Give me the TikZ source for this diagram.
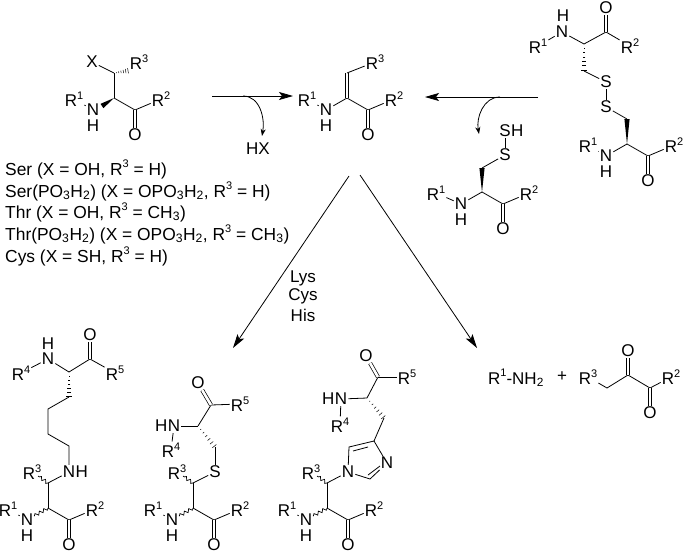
\documentclass[tikz,border=0pt]{standalone}
\usepackage{fontspec}
\setmainfont{Liberation Sans}
\usetikzlibrary{arrows.meta, calc, positioning, decorations.pathmorphing}
\tikzstyle{atom} = [inner sep=1pt, font=\fontsize{17}{20}\selectfont]
\tikzstyle{caption} = [inner sep=0pt, anchor=base west, font=\fontsize{17.4}{20}\selectfont]
\tikzstyle{bond} = [line width=0.8pt]
\tikzstyle{dbl} = [line width=0.7pt, double, double distance=2.6pt]
\tikzstyle{wavy} = [line width=0.7pt, decorate, decoration={snake, segment length=5pt, amplitude=1.6pt}]
\tikzstyle{arrow} = [line width=0.8pt,->,>={Stealth[length=14pt,width=8pt,inset=3pt]}]
\tikzstyle{bent} = [line width=0.8pt,->,>={Stealth[length=7pt,width=5pt,inset=2pt]}]
\newcommand{\Rg}[1]{R\raisebox{0.42em}{\fontsize{11}{11}\selectfont #1}}
\newcommand{\wedgebond}[2]{\fill (#1) -- ($(#2)!2.6pt!90:(#1)$) -- ($(#2)!2.6pt!-90:(#1)$) -- cycle;}
\newcommand{\hashbond}[2]{\path (#1) -- (#2) coordinate[pos=0.16] (hb1) coordinate[pos=0.32] (hb2) coordinate[pos=0.48] (hb3) coordinate[pos=0.64] (hb4) coordinate[pos=0.8] (hb5) coordinate[pos=0.96] (hb6);
  \foreach \i/\w in {1/0.5,2/0.9,3/1.3,4/1.7,5/2.1,6/2.6}
    \draw[line width=0.5pt] ($(hb\i)!\w pt!90:(#2)$) -- ($(hb\i)!\w pt!-90:(#2)$);}
% #1 prefix, #2 #3 position of the alpha carbon, #4 offset of R1
\newcommand{\backbone}[4]{\begin{scope}[shift={(#2,#3)}]
  \coordinate (#1a) at (0,0);
  \coordinate (#1c) at (21,12);
  \node (#1n) [atom] at (-21,12) {N};
  \node (#1h) [atom] at (-21,28) {H};
  \node (#1o) [atom] at (21,37) {O};
  \node (#1r) [atom] at (47,1) {\Rg{2}};
  \node (#1s) [atom] at (#4,1) {\Rg{1}};
  \end{scope}
  \draw [bond] (#1a) -- (#1c);
  \draw [bond] (#1c) -- (#1r);
  \draw [dbl] (#1c) -- (#1o);
  \draw [bond] (#1s) -- (#1n);}
% lower half of the three adducts
\newcommand{\adduct}[2]{\backbone{#1}{#2}{508}{-40}
  \coordinate (#1b) at (#2,483);
  \coordinate (#1w) at ($(#1a)+(-14,8)$);
  \coordinate (#1v) at ($(#1b)+(-10,-7)$);
  \node (#1t) [atom] at ($(#1b)+(-16,-11)$) {\Rg{3}};
  \draw [bond] (#1a) -- (#1b);
  \draw [wavy] (#1a) -- (#1w);
  \draw [wavy] (#1b) -- (#1v);}

\begin{document}
\begin{tikzpicture}[x=1pt,y=-1pt]
  \useasboundingbox (0,0) rectangle (685,552);

  % starting residue
  \backbone{s}{114}{98}{-40}
  \coordinate (sb) at (114,73);
  \coordinate (sw) at (102,106);
  \node (sx) [atom] at (92,62) {X};
  \node (st) [atom] at (139,62) {\Rg{3}};
  \draw [bond] (sa) -- (sb);
  \draw [bond] (sb) -- (sx);
  \hashbond{sb}{st.south west}
  \wedgebond{sa}{sw}

  % dehydro residue
  \backbone{d}{347}{98}{-40}
  \coordinate (db) at (347,73);
  \node (dt) [atom] at (375,62) {\Rg{3}};
  \draw [bond] (da) -- (dn);
  \draw [dbl] (da) -- (db);
  \draw [bond] (db) -- (dt);

  % disulfide
  \coordinate (ua) at (584,44);
  \coordinate (uc) at (606,32);
  \coordinate (ub) at (584,71);
  \node (un) [atom] at (562,32) {N};
  \node (uh) [atom] at (563,16) {H};
  \node (uo) [atom] at (606,8) {O};
  \node (ur) [atom] at (630,46) {\Rg{2}};
  \node (us) [atom] at (538,46) {\Rg{1}};
  \node (ss1) [atom] at (606,82) {S};
  \node (ss2) [atom] at (606,107) {S};
  \draw [bond] (us) -- (un);
  \draw [bond] (un) -- (ua);
  \draw [bond] (ua) -- (uc);
  \draw [bond] (uc) -- (ur);
  \draw [dbl] (uc) -- (uo);
  \hashbond{ua}{ub}
  \draw [bond] (ub) -- (ss1);
  \draw [bond] (ss1) -- (ss2);
  \backbone{l}{627}{144}{-39}
  \coordinate (lb) at (627,119);
  \draw [bond] (ss2) -- (lb);
  \draw [bond] (la) -- (ln);
  \wedgebond{la}{lb}

  % cysteine thiol
  \backbone{t}{482}{192}{-46}
  \coordinate (tb) at (482,168);
  \node (ts) [atom] at (505,155) {S};
  \node (ts2) [atom] at (505,131) {S};
  \node (tsh) [atom, right=-2pt of ts2] {H};
  \draw [bond] (ts2) -- (ts);
  \draw [bond] (ts) -- (tb);
  \draw [bond] (ta) -- (tn);
  \wedgebond{ta}{tb}

  % reaction arrows
  \coordinate (a1s) at (212,96);
  \coordinate (a1e) at (293,96);
  \coordinate (a1m) at (243,96);
  \node (hx) [atom] at (258,149) {HX};
  \coordinate (a1t) at (262,136);
  \draw [arrow] (a1s) -- (a1e);
  \draw [bent] (a1m) to[out=0,in=80] (a1t);
  \coordinate (a2s) at (538,97);
  \coordinate (a2e) at (425,97);
  \coordinate (a2m) at (500,97);
  \coordinate (a2t) at (479,134);
  \draw [arrow] (a2s) -- (a2e);
  \draw [bent] (a2m) to[out=180,in=100] (a2t);
  \coordinate (a3s) at (349,176);
  \coordinate (a3e) at (233,348);
  \coordinate (a4s) at (360,175);
  \coordinate (a4e) at (477,348);
  \draw [arrow] (a3s) -- (a3e);
  \draw [arrow] (a4s) -- (a4e);
  \node (lys) [atom] at (303,278) {Lys};
  \node (cys) [atom] at (303,296) {Cys};
  \node (his) [atom] at (303,315) {His};

  % residue list
  \node (ser) [caption] at (5,175) {Ser (X = OH, \Rg{3} = H)};
  \node (serp) [caption] at (5,197) {Ser(PO\textsubscript{3}H\textsubscript{2}) (X = OPO\textsubscript{3}H\textsubscript{2}, \Rg{3} = H)};
  \node (thr) [caption] at (5,218) {Thr (X = OH, \Rg{3} = CH\textsubscript{3})};
  \node (thrp) [caption] at (5,240) {Thr(PO\textsubscript{3}H\textsubscript{2}) (X = OPO\textsubscript{3}H\textsubscript{2}, \Rg{3} = CH\textsubscript{3})};
  \node (cyss) [caption] at (5,262) {Cys (X = SH, \Rg{3} = H)};

  % lysine adduct
  \adduct{k}{48}
  \node (kn2) [atom] at (69,472) {N};
  \node (kh2) [atom, right=-2pt of kn2] {H};
  \draw [bond] (kb) -- (kn2);
  \coordinate (k1) at (69,446);
  \coordinate (k2) at (48,434);
  \coordinate (k3) at (48,409);
  \coordinate (k4) at (69,397);
  \coordinate (ka2) at (69,372);
  \coordinate (kc2) at (90,359);
  \node (kn3) [atom] at (48,359) {N};
  \node (kh3) [atom] at (48,344) {H};
  \node (ko2) [atom] at (90,335) {O};
  \node (kr5) [atom] at (115,373) {\Rg{5}};
  \node (kr4) [atom] at (21,373) {\Rg{4}};
  \draw [bond] (kn2) -- (k1) -- (k2) -- (k3) -- (k4);
  \hashbond{ka2}{k4}
  \draw [bond] (ka2) -- (kn3);
  \draw [bond] (kn3) -- (kr4);
  \draw [bond] (ka2) -- (kc2);
  \draw [bond] (kc2) -- (kr5);
  \draw [dbl] (kc2) -- (ko2);

  % cysteine adduct
  \adduct{c}{193}
  \node (cs) [atom] at (215,472) {S};
  \coordinate (c1) at (215,447);
  \coordinate (ca2) at (198,426);
  \coordinate (cc2) at (211,405);
  \node (cn2) [atom] at (174,426) {N};
  \node (ch2) [atom, left=-2pt of cn2] {H};
  \node (co2) [atom] at (198,383) {O};
  \node (cr5) [atom] at (240,404) {\Rg{5}};
  \node (cr4) [atom] at (171,450) {\Rg{4}};
  \draw [bond] (cb) -- (cs);
  \draw [bond] (cs) -- (c1);
  \hashbond{ca2}{c1}
  \draw [bond] (ca2) -- (cn2);
  \draw [bond] (cn2) -- (cr4);
  \draw [bond] (ca2) -- (cc2);
  \draw [bond] (cc2) -- (cr5);
  \draw [dbl] (cc2) -- (co2);

  % histidine adduct
  \adduct{i}{327}
  \node (in1) [atom] at (348,472) {N};
  \node (in3) [atom] at (387,463) {N};
  \coordinate (i5) at (349,447);
  \coordinate (i4) at (374,441);
  \coordinate (i2) at (370,479);
  \coordinate (i5a) at (353,451);
  \coordinate (i4a) at (368,447);
  \coordinate (i2a) at (368,475);
  \coordinate (i3a) at (380,466);
  \coordinate (i1) at (384,418);
  \coordinate (ia2) at (367,398);
  \coordinate (ic2) at (378,377);
  \node (in4) [atom] at (341,399) {N};
  \node (ih4) [atom, left=-2pt of in4] {H};
  \node (io2) [atom] at (366,356) {O};
  \node (ir5) [atom] at (407,377) {\Rg{5}};
  \node (ir4) [atom] at (340,425) {\Rg{4}};
  \draw [bond] (ib) -- (in1);
  \draw [bond] (in1) -- (i5) -- (i4) -- (in3);
  \draw [bond] (in1) -- (i2) -- (in3);
  \draw [bond] (i5a) -- (i4a);
  \draw [bond] (i2a) -- (i3a);
  \draw [bond] (i4) -- (i1);
  \hashbond{ia2}{i1}
  \draw [bond] (ia2) -- (in4);
  \draw [bond] (in4) -- (ir4);
  \draw [bond] (ia2) -- (ic2);
  \draw [bond] (ic2) -- (ir5);
  \draw [dbl] (ic2) -- (io2);

  % elimination products
  \node (amine) [atom] at (516,378) {\Rg{1}-NH\textsubscript{2}};
  \node (plus) [atom] at (562,377) {+};
  \node (pr3) [atom] at (588,377) {\Rg{3}};
  \node (po1) [atom] at (628,351) {O};
  \node (po2) [atom] at (650,413) {O};
  \node (pr2) [atom] at (671,377) {\Rg{2}};
  \coordinate (p1) at (607,388);
  \coordinate (p2) at (628,375);
  \coordinate (p3) at (650,388);
  \draw [bond] (pr3) -- (p1) -- (p2) -- (p3) -- (pr2);
  \draw [dbl] (p2) -- (po1);
  \draw [dbl] (p3) -- (po2);
\end{tikzpicture}
\end{document}
